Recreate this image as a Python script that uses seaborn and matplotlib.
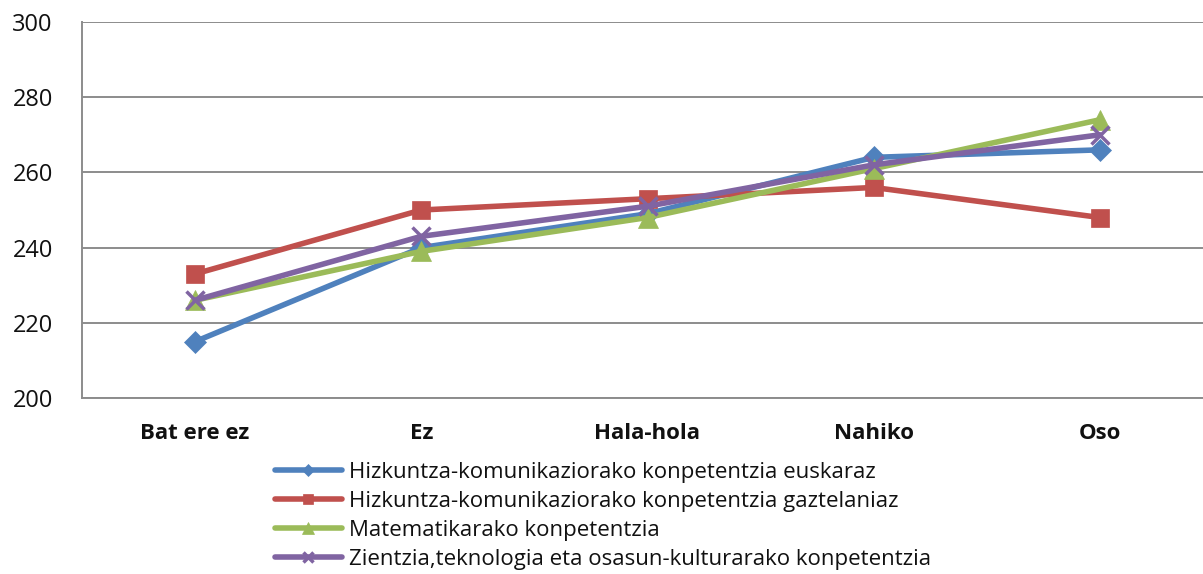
import matplotlib
matplotlib.use("Agg")
import matplotlib.pyplot as plt
import seaborn as sns
import pandas as pd
from matplotlib.ticker import FixedLocator

categories = ["Bat ere ez", "Ez", "Hala-hola", "Nahiko", "Oso"]
series_names = [
    "Hizkuntza-komunikaziorako konpetentzia euskaraz",
    "Hizkuntza-komunikaziorako konpetentzia gaztelaniaz",
    "Matematikarako konpetentzia",
    "Zientzia,teknologia eta osasun-kulturarako konpetentzia",
]
euskaraz = [215, 240, 249, 264, 266]
gaztelaniaz = [233, 250, 253, 256, 248]
matematika = [226, 239, 248, 261, 274]
zientzia = [226, 243, 251, 262, 270]
y_ticks = [200, 220, 240, 260, 280, 300]

colors = ["#4F81BD", "#C0504D", "#9BBB59", "#8064A2"]
markers = ["D", "s", "^", "x"]
msizes = [11, 13, 14, 13]

rows = []
for name, vals in zip(series_names, [euskaraz, gaztelaniaz, matematika, zientzia]):
    for c, v in zip(categories, vals):
        rows.append({"cat": c, "value": v, "series": name})
df = pd.DataFrame(rows)

sns.set_theme(style="white")
plt.rcParams["font.family"] = ["Open Sans", "DejaVu Sans"]

fig = plt.figure(figsize=(12.03, 5.74), dpi=100)
ax = fig.add_axes([82 / 1203, 1 - 398 / 574, (1213 - 82) / 1203, (398 - 22) / 574])

for name, col, mk, ms in zip(series_names, colors, markers, msizes):
    sub = df[df["series"] == name]
    sns.lineplot(data=sub, x="cat", y="value", ax=ax, color=col, linewidth=4,
                 marker=mk, markersize=ms, markeredgecolor=col,
                 markeredgewidth=2.5 if mk == "x" else 0.5, label=name, sort=False)

ax.set_xlim(-0.5, len(categories) - 0.5)
ax.set_ylim(200, 300)
ax.set_yticks(y_ticks)
ax.yaxis.grid(True, color="#8c8c8c", linewidth=1.4)
ax.set_axisbelow(True)
ax.set_xlabel("")
ax.set_ylabel("")

ax.set_xticks(range(len(categories)))
ax.set_xticklabels(categories, fontsize=16, fontweight="bold")
ax.tick_params(axis="x", which="major", length=0, pad=18)
ax.xaxis.set_minor_locator(FixedLocator([i + 0.5 for i in range(-1, len(categories))]))
ax.tick_params(axis="x", which="minor", length=7, color="#8c8c8c", width=1.4, direction="out")
ax.tick_params(axis="y", length=7, color="#8c8c8c", width=1.4, direction="out",
               labelsize=17, pad=14)
for t in ax.get_yticklabels():
    t.set_color("#111111")
for t in ax.get_xticklabels():
    t.set_color("#111111")

for s in ["top", "right"]:
    ax.spines[s].set_visible(False)
for s in ["left", "bottom"]:
    ax.spines[s].set_color("#8c8c8c")
    ax.spines[s].set_linewidth(1.4)

leg = ax.legend(loc="upper left", frameon=False, fontsize=16,
                handlelength=3.0, handletextpad=0.35, labelspacing=0.36,
                markerscale=0.6, borderaxespad=0, borderpad=0)
leg.set_bbox_to_anchor((275 / 1203, 1 - 462 / 574), transform=fig.transFigure)
for t in leg.get_texts():
    t.set_color("#111111")

fig.savefig("out.png", dpi=100)
